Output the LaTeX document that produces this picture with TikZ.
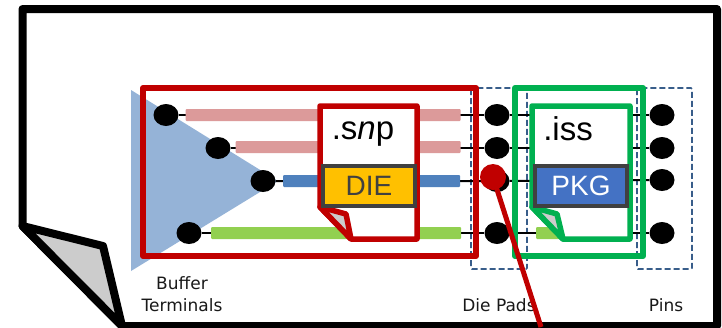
\documentclass[tikz,border=0pt]{standalone}
\usepackage{fontspec}
\setmainfont{Liberation Sans}
\newfontfamily\labelfont{DejaVu Sans}
\usepackage{tikz}
\usetikzlibrary{positioning}
\usetikzlibrary{calc}
\usetikzlibrary{shapes.geometric}

\definecolor{sheetgray}{HTML}{CCCCCC}
\definecolor{triblue}{HTML}{95B3D7}
\definecolor{barpink}{HTML}{DC9A9A}
\definecolor{barblue}{HTML}{4F81BD}
\definecolor{bargreen}{HTML}{92D050}
\definecolor{snpred}{HTML}{C00000}
\definecolor{issgreen}{HTML}{00B050}
\definecolor{dashblue}{HTML}{385D8A}
\definecolor{tagdark}{HTML}{404040}
\definecolor{dieyellow}{HTML}{FFC000}
\definecolor{pkgblue}{HTML}{4472C4}

\begin{document}
\begin{tikzpicture}[x=1pt,y=-1pt,
      terminal/.style={draw=none,fill=black,ellipse,minimum width=25pt,minimum height=22pt,inner sep=0pt},
      wire/.style={black,line width=2pt},
      netbar/.style={rectangle,rounded corners=1pt,minimum height=12pt,inner sep=0pt,anchor=west},
      padbox/.style={draw=dashblue,dashed,dash pattern=on 6pt off 3pt,line width=1.7pt,rounded corners=1pt},
      tagbox/.style={draw=tagdark,line width=3.5pt,rectangle,minimum width=92pt,minimum height=40pt,inner sep=0pt,font=\fontsize{28}{28}\selectfont},
      filename/.style={font=\fontsize{33}{33}\selectfont,inner sep=0pt},
      caption/.style={font=\labelfont\fontsize{17}{22}\selectfont,align=center,text=black!90,inner sep=0pt}]
    \useasboundingbox[clip] (0,0) rectangle (722,327);

    % Page
    \draw[line width=8pt,line join=round,fill=white] (22.5,9) -- (717,9) -- (717,326) -- (122,326) -- (22.5,226) -- cycle;
    \draw[line width=8pt,line join=round,fill=sheetgray] (22.5,226) -- (103,246) -- (122,326) -- cycle;

    % Driver and dashed groups
    \fill[triblue] (131,90) -- (278,181) -- (131,271) -- cycle;
    \draw[padbox] (471,88) rectangle (527,269);
    \draw[padbox] (637,88) rectangle (692,269);

    % Terminals
    \node[terminal] at (166,115) (buf1) {};
    \node[terminal] at (218,148) (buf2) {};
    \node[terminal] at (263,181) (buf3) {};
    \node[terminal] at (189,233) (buf4) {};
    \node[terminal] at (497,115) (pad1) {};
    \node[terminal] at (497,148) (pad2) {};
    \node[terminal] at (497,181) (pad3) {};
    \node[terminal] at (497,233) (pad4) {};
    \node[terminal] at (662,115) (pin1) {};
    \node[terminal] at (662,148) (pin2) {};
    \node[terminal] at (662,180) (pin3) {};
    \node[terminal] at (662,233) (pin4) {};

    % Wires
    \draw[wire] (buf1) -- (pad1) (pad1) -- (pin1);
    \draw[wire] (buf2) -- (pad2) (pad2) -- (pin2);
    \draw[wire] (buf3) -- (pad3) (pad3) -- (pin3);
    \draw[wire] (buf4) -- (pad4) (pad4) -- (pin4);

    % Bars
    \node[netbar,fill=barpink, minimum width=275pt] at (185.5,115) (bar1) {};
    \node[netbar,fill=barpink, minimum width=225pt] at (235.5,147) (bar2) {};
    \node[netbar,fill=barblue, minimum width=177pt] at (283,181)   (bar3) {};
    \node[netbar,fill=bargreen,minimum width=250pt] at (211,233)   (bar4) {};
    \node[netbar,fill=bargreen,minimum width=30pt]  at (536,233)   (bar5) {};

    % Blocks
    \draw[snpred,line width=6pt,line join=round] (143,88) rectangle (476,256);
    \draw[issgreen,line width=6pt,line join=round] (515,88) rectangle (643,256);

    % Files
    \draw[snpred,line width=5.5pt,line join=round,fill=white] (320,106) -- (417,106) -- (417,239) -- (351,239) -- (320,207) -- cycle;
    \draw[snpred,line width=5.5pt,line join=round,fill=sheetgray] (320,207) -- (346,214) -- (351,239) -- cycle;
    \draw[issgreen,line width=5.5pt,line join=round,fill=white] (532,106) -- (630,106) -- (630,239) -- (563,239) -- (532,207) -- cycle;
    \draw[issgreen,line width=5.5pt,line join=round,fill=sheetgray] (532,207) -- (557,214) -- (563,239) -- cycle;
    \node[filename] at (363,134) (snpname) {.s\textit{n}p};
    \node[filename] at (568,129) (issname) {.iss};
    \node[tagbox,fill=dieyellow,text=tagdark] at (369,186) (dietag) {DIE};
    \node[tagbox,fill=pkgblue,text=white]     at (581,186) (pkgtag) {PKG};

    % Labels
    \node[caption] at (182,294) (buflabel) {Buffer\\Terminals};
    \node[caption] at (499,305) (padlabel) {Die Pads};
    \node[caption] at (666,305) (pinlabel) {Pins};

    % Marker
    \node[circle,fill=snpred,minimum size=26pt,inner sep=0pt] at (493,177) (marker) {};
    \coordinate (markerend) at (541,327);
    \draw[snpred,line width=5pt] (marker.center) -- (markerend);

  \end{tikzpicture}
\end{document}
